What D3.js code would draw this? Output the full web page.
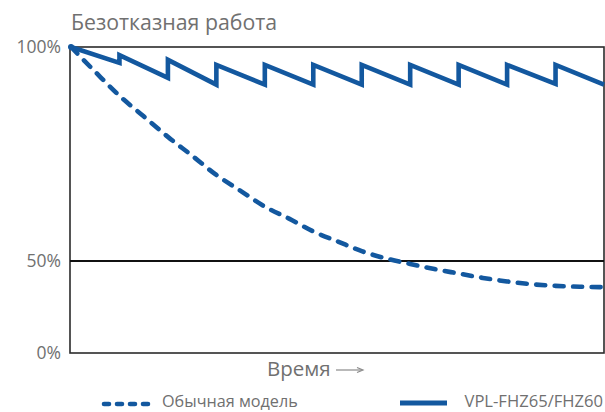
<!DOCTYPE html>
<html>
<head>
<meta charset="utf-8">
<script src="https://cdn.jsdelivr.net/npm/d3@7"></script>
<style>
  html, body { margin: 0; padding: 0; background: #fff; }
  svg { display: block; }
  text { font-family: "Open Sans", "Noto Sans", sans-serif; fill: #707070; }
</style>
</head>
<body>
<script>
// Time runs over 11 maintenance cycles; reliability in percent.
const cycleTicks = [0, 1, 2, 3, 4, 5, 6, 7, 8, 9, 10, 11];

// Conventional model: steady decline in reliability.
const standardTime = [0, 0.5, 1, 1.5, 2, 2.5, 3, 3.5, 4, 4.5, 5, 5.5, 6, 6.5, 7, 7.5, 8, 8.5, 9, 9.5, 10, 10.5, 11];
const standardValue = [100, 94.2, 88.6, 83.8, 79.0, 74.6, 70.1, 66.4, 62.7, 59.9, 56.9, 54.6, 52.3, 50.6, 48.4, 45.6, 43.2, 40.8, 38.9, 37.4, 36.5, 36.0, 35.8];

// VPL-FHZ65/FHZ60: drops each cycle, then recovers (sawtooth).
const fhzTime  = [0, 1, 1, 2, 2, 3, 3, 4, 4, 5, 5, 6, 6, 7, 7, 8, 8, 9, 9, 10, 10, 11];
const fhzValue = [100, 96.3, 98.1, 92.8, 97.0, 91.2, 95.8, 91.2, 95.8, 91.2, 95.8, 91.2, 95.8, 91.2, 95.8, 91.2, 95.8, 91.2, 95.8, 91.4, 95.8, 91.2];

const yTickValues = [0, 50, 100];
const yTickLabels = ["0%", "50%", "100%"];
const seriesNames = ["Обычная модель", "VPL-FHZ65/FHZ60"];

const W = 605, H = 412;
const blue = "#13589f";

const svg = d3.select("body").append("svg")
  .attr("width", W).attr("height", H);

const x = d3.scaleLinear().domain([0, 11]).range([71, 604]);
// Upper half of the range is stretched to show the detail near 100%.
const y = d3.scaleLinear().domain([0, 50, 100]).range([353, 261, 47]);

// Title
svg.append("text")
  .attr("x", 71).attr("y", 30)
  .attr("font-size", 21.3)
  .text("Безотказная работа");

// Y-axis labels
const yAxis = d3.axisLeft(y)
  .tickValues(yTickValues)
  .tickSize(0)
  .tickPadding(9)
  .tickFormat((d, i) => yTickLabels[i]);

const gy = svg.append("g")
  .attr("transform", `translate(${x(0) - 1},0)`)
  .call(yAxis);
gy.select(".domain").remove();
gy.selectAll("text")
  .attr("font-size", 17.5)
  .attr("fill", "#707070")
  .attr("dy", "0.33em")
  .style("font-family", '"Open Sans", "Noto Sans", sans-serif');

// Plot frame
svg.append("rect")
  .attr("x", x(0) - 1).attr("y", y(100))
  .attr("width", x(11) - x(0) + 1).attr("height", y(0) - y(100))
  .attr("fill", "none")
  .attr("stroke", "#2b2b2b")
  .attr("stroke-width", 1.6);

// 50% reference line
svg.append("line")
  .attr("x1", x(0) - 1).attr("x2", x(11))
  .attr("y1", y(50)).attr("y2", y(50))
  .attr("stroke", "#111")
  .attr("stroke-width", 2);

// Series
const lineGen = (xs, ys) => d3.line()
  .x((d, i) => x(xs[i]))
  .y((d, i) => y(ys[i]));

const standardCurve = d3.line()
  .x((d, i) => x(standardTime[i]))
  .y((d, i) => y(standardValue[i]))
  .curve(d3.curveMonotoneX);

svg.append("path")
  .datum(standardValue)
  .attr("d", standardCurve)
  .attr("fill", "none")
  .attr("stroke", blue)
  .attr("stroke-width", 4.6)
  .attr("stroke-linecap", "round")
  .attr("stroke-dasharray", "9 9.5");

svg.append("path")
  .datum(fhzValue)
  .attr("d", lineGen(fhzTime, fhzValue))
  .attr("fill", "none")
  .attr("stroke", blue)
  .attr("stroke-width", 4.6)
  .attr("stroke-linejoin", "miter")
  .attr("stroke-miterlimit", 10);

// Start marker where both series begin
svg.append("circle")
  .attr("cx", x(0)).attr("cy", y(100)).attr("r", 3)
  .attr("fill", blue);

// X-axis label with arrow
svg.append("text")
  .attr("x", 267).attr("y", 376)
  .attr("font-size", 20.5)
  .text("Время");
svg.append("line")
  .attr("x1", 336).attr("x2", 362)
  .attr("y1", 370).attr("y2", 370)
  .attr("stroke", "#8a8a8a").attr("stroke-width", 1.2);
svg.append("path")
  .attr("d", "M357,367.5 L363,370 L357,372.5")
  .attr("fill", "none")
  .attr("stroke", "#8a8a8a").attr("stroke-width", 1.2);

// Legend
const legend = svg.append("g");
legend.append("line")
  .attr("x1", 104).attr("x2", 148)
  .attr("y1", 404).attr("y2", 404)
  .attr("stroke", blue).attr("stroke-width", 4.6)
  .attr("stroke-linecap", "round")
  .attr("stroke-dasharray", "5 8");
legend.append("text")
  .attr("x", 162).attr("y", 406.5)
  .attr("font-size", 16.2)
  .text(seriesNames[0]);
legend.append("line")
  .attr("x1", 400).attr("x2", 447)
  .attr("y1", 403).attr("y2", 403)
  .attr("stroke", blue).attr("stroke-width", 4.8);
legend.append("text")
  .attr("x", 603).attr("y", 406.5)
  .attr("text-anchor", "end")
  .attr("font-size", 16.6)
  .text(seriesNames[1]);
</script>
</body>
</html>
